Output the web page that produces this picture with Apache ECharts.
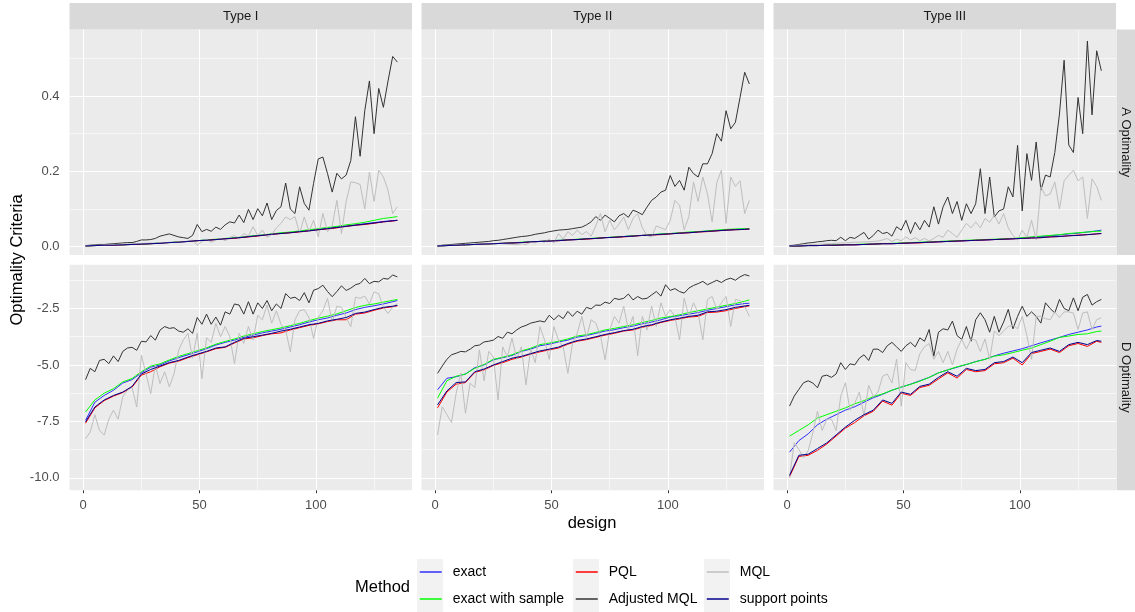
<!DOCTYPE html>
<html>
<head>
<meta charset="utf-8">
<title>Optimality Criteria by design</title>
<script src="https://cdn.jsdelivr.net/npm/echarts@6.0.0/dist/echarts.min.js"></script>
<style>
  html, body { margin: 0; padding: 0; background: #ffffff; }
  #chart { width: 1135px; height: 612px; }
</style>
</head>
<body>
<div id="chart"></div>
<script>
// design numbers used for the noisy curves (every 2nd design) and the smooth ones (every 4th)
const designFine = [1, 3, 5, 7, 9, 11, 13, 15, 17, 19,
  21, 23, 25, 27, 29, 31, 33, 35, 37, 39,
  41, 43, 45, 47, 49, 51, 53, 55, 57, 59,
  61, 63, 65, 67, 69, 71, 73, 75, 77, 79,
  81, 83, 85, 87, 89, 91, 93, 95, 97, 99,
  101, 103, 105, 107, 109, 111, 113, 115, 117, 119,
  121, 123, 125, 127, 129, 131, 133, 135];
const designCoarse = [1, 5, 9, 13, 17, 21, 25, 29, 33, 37,
  41, 45, 49, 53, 57, 61, 65, 69, 73, 77,
  81, 85, 89, 93, 97, 101, 105, 109, 113, 117,
  121, 125, 129, 133, 135];

const methods = ['exact', 'exact with sample', 'PQL', 'Adjusted MQL', 'MQL', 'support points'];
const typeLabels = ['Type I', 'Type II', 'Type III'];
const criteriaLabels = ['A Optimality', 'D Optimality'];

const xTicks = [0, 50, 100];
const xMinorTicks = [25, 75, 125];
const aTicks = [0, 0.2, 0.4];
const aMinorTicks = [0.1, 0.3, 0.5];
const dTicks = [-10, -7.5, -5, -2.5];
const dMinorTicks = [-8.75, -6.25, -3.75, -1.25];

// ---------- A optimality, Type I ----------
const adjMQL_A1 = [.003, .004, .005, .006, .006, .007, .008, .009, .010, .011,
  .011, .014, .018, .018, .019, .022, .028, .031, .034, .030,
  .026, .024, .022, .030, .059, .040, .046, .041, .052, .046,
  .058, .066, .063, .084, .064, .099, .072, .101, .082, .116,
  .072, .096, .106, .169, .100, .088, .159, .115, .097, .168,
  .233, .238, .194, .145, .195, .180, .190, .229, .345, .240,
  .361, .440, .300, .420, .370, .440, .505, .490];
const mql_A1 = [.003, .003, .004, .004, .005, .005, .006, .006, .007, .007,
  .008, .008, .009, .009, .010, .009, .011, .010, .012, .011,
  .013, .012, .015, .018, .004, .014, .020, .012, .018, .022,
  .016, .024, .030, .020, .035, .028, .053, .030, .044, .025,
  .032, .050, .062, .079, .072, .080, .035, .079, .040, .070,
  .026, .088, .040, .055, .123, .035, .120, .172, .170, .165,
  .100, .198, .120, .203, .185, .150, .088, .106];
const support_A1 = [.002, .003, .004, .004, .005, .006, .007, .008, .009, .011,
  .012, .014, .016, .017, .019, .021, .023, .025, .028, .030,
  .033, .035, .037, .040, .042, .045, .048, .051, .054, .057,
  .060, .063, .066, .069, .070];
const exact_A1 = [.002, .003, .004, .005, .005, .006, .007, .008, .010, .011,
  .012, .014, .016, .018, .019, .021, .023, .026, .028, .031,
  .033, .036, .038, .040, .043, .046, .049, .052, .055, .058,
  .061, .064, .067, .069, .070];
const exactSample_A1 = [.002, .003, .004, .005, .005, .006, .007, .008, .010, .011,
  .013, .014, .016, .018, .020, .022, .024, .026, .029, .031,
  .034, .037, .039, .042, .045, .048, .051, .054, .058, .061,
  .065, .070, .075, .078, .080];
const pql_A1 = [.002, .003, .004, .004, .005, .006, .007, .008, .009, .011,
  .012, .014, .016, .017, .019, .021, .022, .025, .027, .030,
  .033, .035, .037, .039, .042, .045, .047, .050, .054, .057,
  .059, .062, .066, .068, .070];

// ---------- A optimality, Type II ----------
const adjMQL_A2 = [.002, .004, .005, .006, .007, .008, .009, .010, .011, .012,
  .013, .014, .016, .017, .019, .021, .023, .025, .027, .028,
  .030, .033, .035, .037, .040, .042, .044, .045, .046, .048,
  .050, .052, .058, .066, .080, .070, .084, .075, .066, .082,
  .088, .078, .097, .092, .085, .105, .123, .132, .145, .150,
  .189, .160, .176, .150, .211, .194, .185, .220, .220, .247,
  .300, .280, .361, .313, .330, .396, .463, .432];
const mql_A2 = [.002, .003, .004, .004, .005, .005, .006, .006, .006, .007,
  .007, .008, .008, .009, .008, .007, .006, .005, .008, .006,
  .012, .010, .015, .012, .020, .010, .035, .020, .040, .030,
  .044, .032, .040, .028, .055, .088, .040, .070, .045, .060,
  .079, .045, .075, .088, .050, .030, .026, .055, .050, .045,
  .070, .123, .110, .045, .080, .172, .120, .185, .140, .066,
  .170, .203, .062, .185, .160, .175, .088, .123];
const support_A2 = [.002, .003, .004, .005, .006, .007, .008, .009, .010, .011,
  .013, .014, .015, .016, .018, .019, .021, .022, .024, .025,
  .027, .028, .030, .031, .033, .034, .036, .037, .039, .041,
  .042, .044, .045, .046, .047];
const exact_A2 = [.002, .003, .004, .005, .006, .007, .008, .009, .010, .011,
  .013, .014, .015, .017, .018, .019, .021, .022, .024, .025,
  .027, .029, .030, .032, .033, .035, .036, .038, .040, .041,
  .043, .044, .046, .047, .047];
const exactSample_A2 = [.002, .003, .004, .005, .006, .007, .008, .009, .010, .012,
  .013, .014, .016, .017, .018, .020, .021, .023, .024, .026,
  .027, .029, .030, .032, .034, .035, .037, .039, .040, .042,
  .044, .046, .047, .048, .048];
const pql_A2 = [.002, .003, .004, .005, .006, .007, .008, .009, .010, .011,
  .012, .014, .015, .016, .018, .019, .020, .022, .024, .025,
  .026, .028, .030, .031, .032, .034, .036, .037, .039, .040,
  .042, .044, .045, .046, .047];

// ---------- A optimality, Type III ----------
const adjMQL_A3 = [.003, .004, .006, .008, .010, .011, .013, .014, .016, .017,
  .016, .025, .016, .025, .022, .030, .038, .020, .030, .044,
  .035, .038, .028, .053, .044, .070, .035, .065, .045, .070,
  .052, .106, .060, .106, .132, .088, .120, .070, .114, .088,
  .114, .207, .088, .185, .079, .095, .100, .159, .132, .269,
  .095, .247, .176, .278, .150, .190, .185, .250, .352, .495,
  .270, .250, .396, .300, .546, .350, .520, .467];
const mql_A3 = [.002, .003, .004, .004, .005, .006, .006, .007, .008, .008,
  .009, .010, .010, .011, .012, .012, .013, .013, .014, .015,
  .018, .022, .014, .020, .016, .026, .018, .024, .016, .022,
  .015, .022, .030, .025, .044, .035, .025, .044, .062, .050,
  .066, .050, .075, .065, .084, .060, .088, .050, .030, .018,
  .044, .025, .070, .018, .159, .135, .140, .172, .100, .175,
  .190, .203, .175, .185, .075, .180, .160, .123];
const support_A3 = [.002, .002, .003, .003, .004, .004, .005, .005, .006, .007,
  .008, .008, .009, .010, .011, .012, .013, .014, .015, .016,
  .017, .018, .019, .020, .021, .022, .023, .024, .026, .027,
  .029, .030, .032, .034, .035];
const exact_A3 = [.002, .002, .003, .003, .004, .004, .005, .005, .006, .007,
  .008, .008, .009, .010, .011, .012, .013, .014, .015, .016,
  .017, .018, .019, .020, .021, .023, .025, .027, .029, .031,
  .034, .036, .039, .042, .044];
const exactSample_A3 = [.002, .002, .003, .003, .004, .005, .005, .006, .007, .007,
  .008, .009, .010, .011, .012, .013, .014, .015, .016, .017,
  .018, .019, .020, .021, .022, .024, .026, .028, .030, .032,
  .035, .037, .039, .041, .041];
const pql_A3 = [.002, .002, .003, .003, .004, .004, .005, .005, .006, .007,
  .008, .008, .009, .010, .010, .012, .013, .014, .015, .016,
  .017, .018, .019, .020, .021, .022, .023, .024, .026, .027,
  .029, .031, .032, .034, .035];

// ---------- D optimality, Type I ----------
const adjMQL_D1 = [-5.65, -5.15, -5.30, -4.80, -4.75, -4.94, -4.60, -4.85, -4.40, -4.25,
  -4.22, -4.35, -3.95, -3.98, -3.70, -3.90, -3.46, -3.30, -3.38, -3.35,
  -3.50, -3.55, -3.40, -3.60, -2.90, -3.20, -2.75, -3.20, -2.88, -3.24,
  -2.65, -2.75, -2.30, -2.35, -2.75, -2.20, -2.75, -2.25, -2.50, -2.15,
  -2.60, -2.30, -2.50, -1.84, -2.05, -2.00, -2.15, -1.80, -2.25, -1.69,
  -1.62, -1.47, -1.75, -1.98, -1.75, -1.50, -1.70, -1.60, -1.45, -1.39,
  -1.17, -1.40, -1.30, -1.32, -1.17, -1.20, -1.02, -1.10];
const mql_D1 = [-8.26, -7.97, -7.20, -7.90, -8.10, -7.40, -7.00, -7.40, -6.40, -6.12,
  -6.00, -6.86, -4.57, -5.40, -6.27, -5.00, -5.82, -5.30, -5.97, -5.40,
  -4.35, -3.90, -3.60, -4.70, -3.60, -5.60, -3.80, -4.00, -3.16, -3.75,
  -3.30, -3.75, -4.94, -3.60, -4.05, -3.30, -3.90, -2.80, -3.00, -2.35,
  -3.15, -2.60, -3.20, -3.45, -4.42, -3.00, -2.60, -2.55, -2.90, -3.83,
  -2.90, -2.60, -2.05, -3.10, -2.40, -2.45, -2.90, -3.31, -2.00, -2.05,
  -1.95, -2.30, -1.76, -1.85, -2.45, -2.72, -2.45, -2.28];
const exactSample_D1 = [-7.08, -6.55, -6.25, -6.05, -5.75, -5.60, -5.30, -5.05, -4.95, -4.78,
  -4.62, -4.50, -4.37, -4.24, -4.08, -3.96, -3.85, -3.72, -3.62, -3.52,
  -3.44, -3.36, -3.26, -3.16, -3.04, -2.93, -2.84, -2.74, -2.60, -2.46,
  -2.36, -2.30, -2.22, -2.14, -2.10];
const exact_D1 = [-7.45, -6.65, -6.35, -6.12, -5.80, -5.65, -5.35, -5.10, -5.00, -4.82,
  -4.68, -4.55, -4.42, -4.28, -4.12, -4.00, -3.90, -3.78, -3.68, -3.58,
  -3.50, -3.42, -3.32, -3.22, -3.10, -3.00, -2.92, -2.80, -2.70, -2.55,
  -2.45, -2.38, -2.30, -2.20, -2.15];
const support_D1 = [-7.52, -6.86, -6.55, -6.35, -6.20, -5.95, -5.40, -5.20, -5.05, -4.90,
  -4.80, -4.65, -4.52, -4.40, -4.25, -4.20, -4.00, -3.82, -3.75, -3.68,
  -3.60, -3.50, -3.42, -3.32, -3.22, -3.16, -3.05, -2.98, -2.90, -2.72,
  -2.66, -2.55, -2.45, -2.40, -2.36];
const pql_D1 = [-7.58, -6.90, -6.58, -6.38, -6.22, -5.98, -5.45, -5.30, -5.08, -4.92,
  -4.83, -4.68, -4.55, -4.42, -4.28, -4.22, -4.03, -3.85, -3.80, -3.70,
  -3.62, -3.58, -3.45, -3.35, -3.25, -3.18, -3.08, -3.00, -3.00, -2.75,
  -2.70, -2.58, -2.48, -2.42, -2.38];

// ---------- D optimality, Type II ----------
const adjMQL_D2 = [-5.37, -5.05, -4.75, -4.55, -4.48, -4.40, -4.42, -4.30, -4.15, -4.12,
  -3.98, -3.95, -3.90, -3.74, -3.82, -3.55, -3.62, -3.45, -3.32, -3.25,
  -3.15, -3.10, -3.05, -3.10, -2.80, -3.00, -2.80, -2.95, -2.63, -2.85,
  -2.62, -2.75, -2.45, -2.52, -2.35, -2.36, -2.22, -2.28, -2.05, -2.10,
  -2.05, -1.86, -2.12, -1.97, -2.08, -2.05, -1.90, -1.75, -1.95, -1.45,
  -1.70, -1.62, -1.75, -1.82, -1.60, -1.48, -1.40, -1.30, -1.45, -1.35,
  -1.25, -1.35, -1.22, -1.16, -1.25, -1.10, -1.00, -1.06];
const mql_D2 = [-8.10, -6.85, -7.20, -7.55, -6.25, -5.37, -7.14, -5.80, -6.00, -4.33,
  -5.70, -4.40, -4.65, -6.55, -4.20, -4.65, -3.81, -4.75, -4.20, -5.88,
  -4.30, -4.90, -3.30, -3.90, -4.75, -3.30, -3.90, -4.20, -5.37, -4.05,
  -3.60, -2.85, -3.80, -3.00, -3.15, -3.70, -4.77, -3.45, -2.85, -3.15,
  -2.40, -3.45, -2.85, -4.60, -2.85, -3.45, -2.40, -3.30, -2.25, -2.85,
  -2.55, -2.85, -3.89, -2.04, -2.85, -2.25, -2.70, -3.89, -2.10, -1.97,
  -2.55, -2.25, -1.97, -3.30, -2.10, -2.15, -2.40, -2.85];
const exact_D2 = [-6.10, -5.59, -5.52, -5.40, -5.12, -5.00, -4.77, -4.68, -4.58, -4.40,
  -4.30, -4.15, -4.08, -3.98, -3.90, -3.77, -3.70, -3.60, -3.50, -3.44,
  -3.35, -3.28, -3.18, -3.10, -3.00, -2.88, -2.82, -2.75, -2.68, -2.58,
  -2.50, -2.42, -2.34, -2.28, -2.27];
const exactSample_D2 = [-6.47, -5.70, -5.50, -5.40, -5.15, -4.98, -4.75, -4.66, -4.55, -4.38,
  -4.26, -4.10, -4.03, -3.95, -3.85, -3.72, -3.66, -3.56, -3.45, -3.38,
  -3.30, -3.22, -3.12, -3.03, -2.92, -2.86, -2.78, -2.68, -2.60, -2.52,
  -2.44, -2.36, -2.28, -2.18, -2.12];
const support_D2 = [-6.77, -6.15, -5.78, -5.75, -5.30, -5.18, -5.00, -4.85, -4.70, -4.62,
  -4.50, -4.38, -4.30, -4.21, -4.05, -3.92, -3.85, -3.75, -3.65, -3.57,
  -3.48, -3.42, -3.30, -3.22, -3.10, -3.00, -2.93, -2.85, -2.80, -2.65,
  -2.62, -2.55, -2.45, -2.39, -2.36];
const pql_D2 = [-6.90, -6.20, -5.85, -5.78, -5.33, -5.22, -5.02, -4.90, -4.75, -4.65,
  -4.52, -4.42, -4.33, -4.25, -4.08, -3.95, -3.88, -3.78, -3.68, -3.60,
  -3.50, -3.45, -3.33, -3.25, -3.12, -3.03, -2.96, -2.88, -2.85, -2.68,
  -2.66, -2.60, -2.50, -2.42, -2.38];

// ---------- D optimality, Type III ----------
const adjMQL_D3 = [-6.82, -6.38, -6.08, -5.79, -5.70, -5.80, -6.01, -5.50, -5.45, -5.55,
  -5.40, -4.90, -5.20, -4.95, -5.00, -4.70, -4.55, -4.80, -4.30, -4.30,
  -4.45, -4.15, -4.00, -4.20, -4.40, -4.15, -4.00, -4.20, -3.80, -3.95,
  -3.43, -4.61, -3.55, -3.40, -3.45, -3.06, -3.70, -3.87, -3.30, -3.95,
  -3.00, -2.69, -3.00, -3.55, -2.85, -3.55, -3.10, -2.54, -3.40, -2.85,
  -2.40, -2.85, -2.65, -2.85, -3.15, -2.25, -2.50, -2.70, -2.10, -2.50,
  -2.60, -2.03, -2.60, -2.00, -1.88, -2.35, -2.20, -2.10];
const mql_D3 = [-10.00, -8.44, -8.74, -9.10, -8.80, -8.00, -7.04, -7.90, -7.40, -7.40,
  -7.90, -6.38, -5.79, -7.00, -6.70, -6.20, -7.26, -5.90, -6.40, -6.20,
  -5.50, -5.40, -5.80, -4.75, -6.82, -4.90, -5.20, -5.25, -4.50, -4.20,
  -4.05, -4.75, -4.40, -4.90, -4.40, -5.00, -4.30, -3.87, -4.30, -3.85,
  -3.90, -4.40, -3.85, -4.75, -3.50, -3.70, -3.50, -3.30, -3.25, -3.40,
  -2.85, -3.70, -4.75, -2.85, -2.85, -2.95, -3.00, -2.65, -2.90, -2.65,
  -2.65, -2.70, -3.43, -2.70, -2.65, -3.43, -3.00, -2.91];
const exactSample_D3 = [-8.15, -7.90, -7.65, -7.35, -7.20, -7.05, -6.90, -6.72, -6.58, -6.40,
  -6.28, -6.12, -5.98, -5.86, -5.72, -5.55, -5.35, -5.22, -5.08, -4.98,
  -4.86, -4.75, -4.61, -4.55, -4.45, -4.35, -4.25, -4.10, -3.95, -3.78,
  -3.72, -3.65, -3.62, -3.52, -3.50];
const exact_D3 = [-8.86, -8.35, -8.05, -7.65, -7.40, -7.20, -7.00, -6.85, -6.65, -6.45,
  -6.30, -6.12, -5.98, -5.85, -5.70, -5.55, -5.35, -5.22, -5.10, -4.98,
  -4.85, -4.75, -4.60, -4.48, -4.38, -4.28, -4.15, -4.02, -3.90, -3.78,
  -3.65, -3.55, -3.45, -3.32, -3.28];
const support_D3 = [-9.89, -9.00, -8.95, -8.70, -8.45, -8.10, -7.75, -7.45, -7.20, -7.00,
  -6.55, -6.70, -6.20, -6.30, -5.95, -5.85, -5.55, -5.30, -5.50, -5.15,
  -5.25, -5.20, -4.90, -4.85, -4.65, -4.90, -4.45, -4.35, -4.25, -4.40,
  -4.10, -4.00, -4.10, -3.92, -3.95];
const pql_D3 = [-9.95, -9.05, -9.00, -8.78, -8.50, -8.15, -7.80, -7.55, -7.25, -7.05,
  -6.60, -6.78, -6.25, -6.35, -6.00, -5.90, -5.62, -5.35, -5.58, -5.20,
  -5.30, -5.25, -4.95, -4.90, -4.70, -5.00, -4.50, -4.40, -4.30, -4.45,
  -4.15, -4.05, -4.18, -3.95, -4.00];

// facets: row 0 = A optimality, row 1 = D optimality; col = Type I..III
const panels = [
  {row: 0, col: 0, values: {'exact': exact_A1, 'exact with sample': exactSample_A1, 'PQL': pql_A1, 'Adjusted MQL': adjMQL_A1, 'MQL': mql_A1, 'support points': support_A1}},
  {row: 0, col: 1, values: {'exact': exact_A2, 'exact with sample': exactSample_A2, 'PQL': pql_A2, 'Adjusted MQL': adjMQL_A2, 'MQL': mql_A2, 'support points': support_A2}},
  {row: 0, col: 2, values: {'exact': exact_A3, 'exact with sample': exactSample_A3, 'PQL': pql_A3, 'Adjusted MQL': adjMQL_A3, 'MQL': mql_A3, 'support points': support_A3}},
  {row: 1, col: 0, values: {'exact': exact_D1, 'exact with sample': exactSample_D1, 'PQL': pql_D1, 'Adjusted MQL': adjMQL_D1, 'MQL': mql_D1, 'support points': support_D1}},
  {row: 1, col: 1, values: {'exact': exact_D2, 'exact with sample': exactSample_D2, 'PQL': pql_D2, 'Adjusted MQL': adjMQL_D2, 'MQL': mql_D2, 'support points': support_D2}},
  {row: 1, col: 2, values: {'exact': exact_D3, 'exact with sample': exactSample_D3, 'PQL': pql_D3, 'Adjusted MQL': adjMQL_D3, 'MQL': mql_D3, 'support points': support_D3}}
];

// ---- styling / layout ----
const fontFamily = '"Liberation Sans", Arial, Helvetica, sans-serif';
const methodColor = {
  'exact': '#0000FF',
  'exact with sample': '#00FF00',
  'PQL': '#FF0000',
  'Adjusted MQL': '#333333',
  'MQL': '#BEBEBE',
  'support points': '#00008B'
};
const noisyMethods = ['Adjusted MQL', 'MQL'];

const colLeft = [69.5, 421.5, 773.5];
const panelWidth = 342.5;
const rowTop = [29.5, 264.7];
const panelHeight = 225.5;
const xRange = [-5.9, 141.3];
const yRange = [[-0.022, 0.5765], [-10.544, -0.562]];

function gridLines(row) {
  const major = {width: 1.1};
  const minor = {width: 0.55};
  const yMajor = row === 0 ? aTicks : dTicks;
  const yMinor = row === 0 ? aMinorTicks : dMinorTicks;
  return [].concat(
    xMinorTicks.map(v => ({xAxis: v, lineStyle: minor})),
    yMinor.map(v => ({yAxis: v, lineStyle: minor})),
    xTicks.map(v => ({xAxis: v, lineStyle: major})),
    yMajor.map(v => ({yAxis: v, lineStyle: major}))
  );
}

const series = [];
panels.forEach((p, g) => {
  // background grid lines of the facet
  series.push({
    type: 'line', name: 'grid' + g, xAxisIndex: g, yAxisIndex: g, data: [],
    silent: true, animation: false,
    markLine: {
      silent: true, animation: false, z: 1,
      symbol: ['none', 'none'],
      label: {show: false},
      emphasis: {disabled: true},
      lineStyle: {color: '#FFFFFF', type: 'solid'},
      data: gridLines(p.row)
    }
  });
  methods.forEach(m => {
    const xs = noisyMethods.indexOf(m) !== -1 ? designFine : designCoarse;
    const ys = p.values[m];
    series.push({
      type: 'line', name: m, xAxisIndex: g, yAxisIndex: g,
      data: xs.map((x, i) => [x, ys[i]]),
      symbol: 'none', showSymbol: false, z: 3,
      color: methodColor[m],
      lineStyle: {width: 1, color: methodColor[m], opacity: m === 'exact' ? 0.8 : 1},
      emphasis: {disabled: true},
      animation: false
    });
  });
});

const graphics = [];
colLeft.forEach((x, i) => {
  graphics.push({type: 'rect', silent: true, shape: {x: x, y: 3, width: panelWidth, height: 26.5}, style: {fill: '#D9D9D9'}});
  graphics.push({type: 'text', silent: true, x: x + panelWidth / 2, y: 16.5,
    style: {text: typeLabels[i], fill: '#1A1A1A', fontSize: 13, fontFamily: fontFamily, align: 'center', verticalAlign: 'middle'}});
});
rowTop.forEach((y, i) => {
  graphics.push({type: 'rect', silent: true, shape: {x: 1116.5, y: y, width: 18.5, height: panelHeight}, style: {fill: '#D9D9D9'}});
  graphics.push({type: 'text', silent: true, x: 1126, y: y + panelHeight / 2, rotation: -Math.PI / 2,
    style: {text: criteriaLabels[i], fill: '#1A1A1A', fontSize: 13, fontFamily: fontFamily, align: 'center', verticalAlign: 'middle'}});
});
// axis titles
graphics.push({type: 'text', silent: true, x: 592, y: 523,
  style: {text: 'design', fill: '#000000', fontSize: 16.5, fontFamily: fontFamily, align: 'center', verticalAlign: 'middle'}});
graphics.push({type: 'text', silent: true, x: 17.5, y: 260, rotation: Math.PI / 2,
  style: {text: 'Optimality Criteria', fill: '#000000', fontSize: 16.5, fontFamily: fontFamily, align: 'center', verticalAlign: 'middle'}});
// legend title and key backgrounds
graphics.push({type: 'text', silent: true, x: 355, y: 587,
  style: {text: 'Method', fill: '#000000', fontSize: 16.5, fontFamily: fontFamily, align: 'left', verticalAlign: 'middle'}});
const legendLeft = [419, 575, 706];
const legendColumns = [['exact', 'exact with sample'], ['PQL', 'Adjusted MQL'], ['MQL', 'support points']];
legendLeft.forEach(x => {
  graphics.push({type: 'rect', silent: true, shape: {x: x - 2, y: 559, width: 26, height: 53}, style: {fill: '#F2F2F2'}});
});

const option = {
  backgroundColor: '#FFFFFF',
  animation: false,
  textStyle: {fontFamily: fontFamily},
  grid: panels.map(p => ({
    left: colLeft[p.col], top: rowTop[p.row], width: panelWidth, height: panelHeight,
    show: true, backgroundColor: '#EBEBEB', borderWidth: 0, containLabel: false
  })),
  xAxis: panels.map((p, g) => ({
    type: 'value', gridIndex: g, min: xRange[0], max: xRange[1],
    axisLine: {show: false},
    splitLine: {show: false},
    axisTick: {show: p.row === 1, customValues: xTicks, length: 3, lineStyle: {color: '#333333', width: 1}},
    axisLabel: {show: p.row === 1, customValues: xTicks, color: '#4D4D4D', fontSize: 13, margin: 9, fontFamily: fontFamily,
      formatter: v => String(v)}
  })),
  yAxis: panels.map((p, g) => ({
    type: 'value', gridIndex: g, min: yRange[p.row][0], max: yRange[p.row][1],
    axisLine: {show: false},
    splitLine: {show: false},
    axisTick: {show: p.col === 0, customValues: p.row === 0 ? aTicks : dTicks, length: 3, lineStyle: {color: '#333333', width: 1}},
    axisLabel: {show: p.col === 0, customValues: p.row === 0 ? aTicks : dTicks, color: '#4D4D4D', fontSize: 13, margin: 10,
      fontFamily: fontFamily, formatter: v => v.toFixed(1)}
  })),
  legend: legendColumns.map((names, i) => ({
    data: names, orient: 'vertical', left: legendLeft[i], top: 565, padding: 0,
    itemGap: 13, itemWidth: 22, itemHeight: 14, selectedMode: false,
    itemStyle: {color: 'transparent', borderWidth: 0, borderColor: 'transparent'},
    lineStyle: {width: 1.5},
    textStyle: {fontSize: 14, color: '#000000', fontFamily: fontFamily, padding: [0, 0, 0, 6]}
  })),
  graphic: graphics,
  series: series
};

const chart = echarts.init(document.getElementById('chart'), null, {renderer: 'canvas'});
chart.setOption(option);
</script>
</body>
</html>
